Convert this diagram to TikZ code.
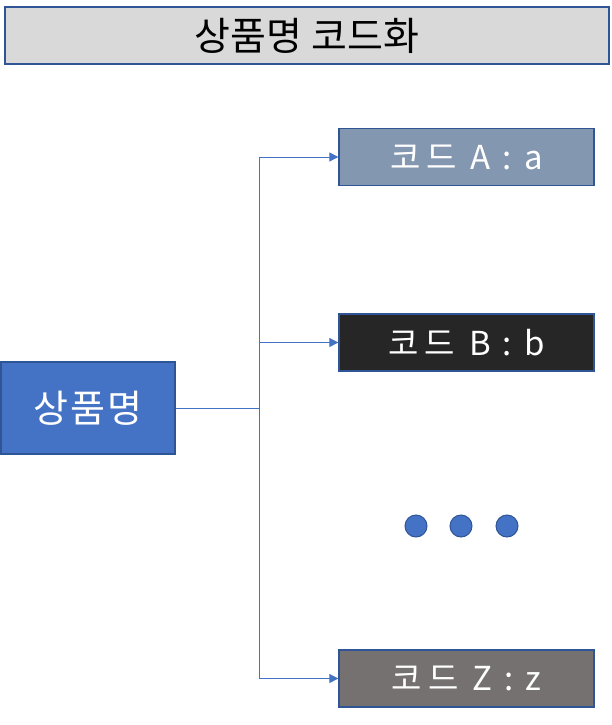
\documentclass[tikz,border=0pt]{standalone}
\usepackage{fontspec}
\setmainfont{Noto Sans CJK KR}
\usetikzlibrary{arrows.meta}
\definecolor{bordblue}{HTML}{2F5597}
\definecolor{lineblue}{HTML}{4472C4}
\definecolor{titlegray}{HTML}{D9D9D9}
\definecolor{boxA}{HTML}{8497B0}
\definecolor{boxB}{HTML}{262626}
\definecolor{boxZ}{HTML}{767171}
\newcommand{\codetext}[2]{코\hspace{6pt}드\hspace{14pt}#1\hspace{12pt}:\hspace{12pt}#2}
\tikzset{
  codebox/.style={draw=bordblue, line width=1.3pt, minimum width=255pt, minimum height=57pt, inner sep=0pt, text=white, font=\fontsize{33}{36}\selectfont},
  conn/.style={draw=lineblue, line width=0.8pt},
  arr/.style={conn, -{Triangle[length=9pt,width=9pt]}},
  dot/.style={circle, fill=lineblue, draw=bordblue, line width=1pt, minimum size=22pt, inner sep=0pt}
}
\begin{document}
\begin{tikzpicture}[x=1pt,y=-1pt]
\useasboundingbox (0,0) rectangle (612,725);
\node (title) [draw=bordblue, line width=1.3pt, fill=titlegray, minimum width=604pt, minimum height=57pt, inner sep=0pt, font=\fontsize{39}{42}\selectfont] at (307,35.5) {상품명 코드화};
\node (src) [draw=bordblue, line width=1.3pt, fill=lineblue, minimum width=174pt, minimum height=92pt, inner sep=0pt, text=white, font=\fontsize{38}{42}\selectfont] at (88,408) {상\hspace{2pt}품\hspace{2pt}명};
\node (a) [codebox, fill=boxA] at (466.5,157) {\codetext{A}{a}};
\node (b) [codebox, fill=boxB] at (466.5,342.5) {\codetext{B}{b}};
\node (z) [codebox, fill=boxZ] at (466.5,678.5) {\codetext{Z}{z}};
\node (d1) [dot] at (416,526) {};
\node (d2) [dot] at (461,526) {};
\node (d3) [dot] at (507,526) {};
\coordinate (j) at (259,408);
\draw[conn] (src.east) -- (j);
\draw[arr] (j) |- (a.west);
\draw[arr] (j) |- (b.west);
\draw[arr] (j) |- (z.west);
\end{tikzpicture}
\end{document}
